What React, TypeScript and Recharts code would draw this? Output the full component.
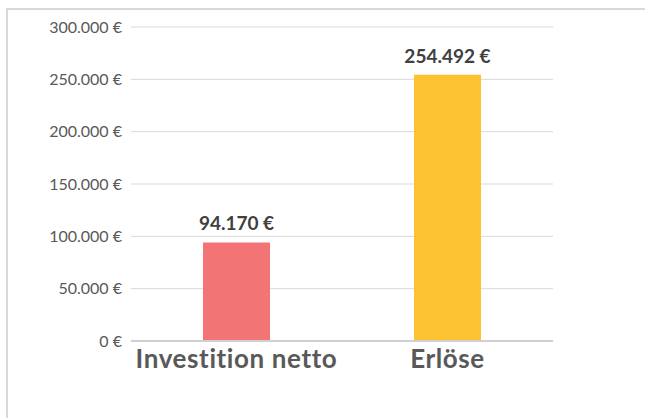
import { BarChart, Bar, Cell, XAxis, YAxis, CartesianGrid, LabelList } from "recharts";

const categories = ["Investition netto", "Erlöse"];
const values = [94170, 254492];
const yTicks = [0, 50000, 100000, 150000, 200000, 250000, 300000];

const BAR_COLORS = ["#F27474", "#FCC232"];
const FONT = "Lato, 'Open Sans', sans-serif";

// 254492 -> "254.492 €"
const euro = (v: number) => String(Math.round(v)).replace(/\B(?=(\d{3})+(?!\d))/g, ".") + " €";

const data = categories.map((name, i) => ({ name, value: values[i] }));

// value label above the bar, no wrapping
const ValueLabel = (props: any) => {
  const { x, y, width, value } = props;
  return (
    <text
      x={Number(x) + Number(width) / 2}
      y={Number(y) - 12}
      textAnchor="middle"
      style={{ fontSize: 19, fontWeight: 700, fill: "#404040", fontFamily: FONT }}
    >
      {euro(Number(value))}
    </text>
  );
};

export default function App() {
  return (
    <div
      style={{
        position: "absolute",
        left: 6,
        top: 8,
        width: 650,
        height: 420,
        borderTop: "2px solid #d9d9d9",
        borderLeft: "2px solid #d9d9d9",
        fontFamily: FONT,
      }}
    >
      <div style={{ marginLeft: 1 }}>
        <BarChart
          width={637}
          height={408}
          data={data}
          margin={{ top: 17, right: 93, bottom: 37, left: 0 }}
        >
          <CartesianGrid vertical={false} stroke="#d9d9d9" strokeWidth={1} />
          <XAxis
            dataKey="name"
            height={40}
            tickLine={false}
            axisLine={{ stroke: "#d0d0d0", strokeWidth: 2 }}
            tickMargin={3}
            tick={{ fontSize: 26, fontWeight: 700, fill: "#595959", fontFamily: FONT, letterSpacing: 0.6 }}
            interval={0}
          />
          <YAxis
            width={122}
            domain={[0, 300000]}
            ticks={yTicks}
            tickFormatter={euro}
            axisLine={false}
            tickLine={false}
            tickMargin={3}
            tick={{ fontSize: 16, fill: "#595959", fontFamily: FONT }}
          />
          <Bar dataKey="value" barSize={67} isAnimationActive={false}>
            {data.map((d, i) => (
              <Cell key={d.name} fill={BAR_COLORS[i]} />
            ))}
            <LabelList dataKey="value" content={ValueLabel} />
          </Bar>
        </BarChart>
      </div>
    </div>
  );
}
